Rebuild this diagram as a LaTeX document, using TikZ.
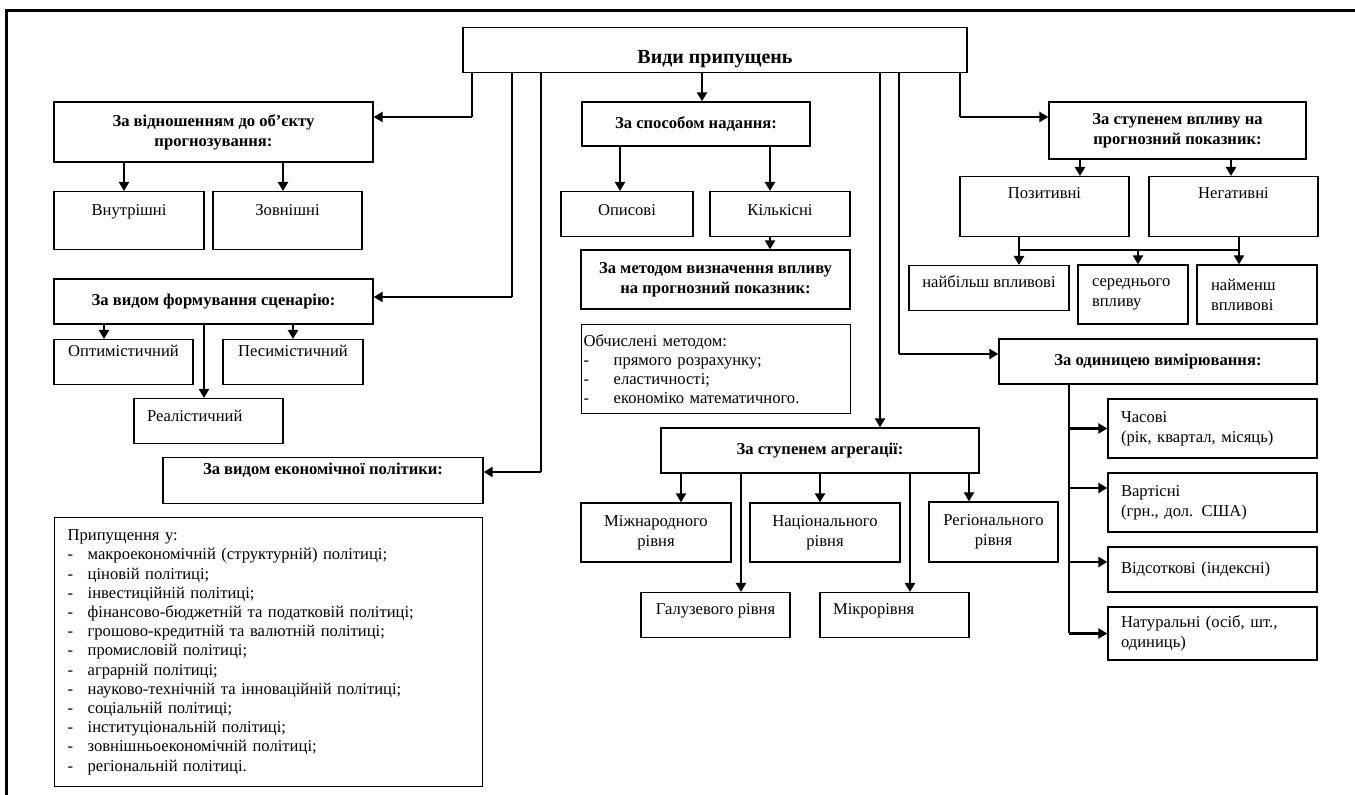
\documentclass[tikz,border=0pt]{standalone}
\usepackage{fontspec}
\setmainfont{Liberation Serif}
\usetikzlibrary{arrows.meta}
\newcommand\basesize{\fontsize{8.3}{10}\selectfont}
\newcommand\listsize{\fontsize{8.3}{9.6}\selectfont}
\newcommand\dashitem[1]{\makebox[#1][l]{-}}

\begin{document}
\begin{tikzpicture}[x=0.5pt,y=-0.5pt,
    every node/.style={font=\basesize},
    cat/.style={draw,line width=0.65pt,align=center,font=\basesize\bfseries,inner sep=2pt},
    leaf/.style={draw,line width=0.65pt,align=center,inner sep=2pt},
    topleaf/.style 2 args={leaf,anchor=north,inner ysep=0pt,text height=#1,text depth=#2},
    lefttext/.style={align=left,inner xsep=6.5pt,text width=#1},
    arrow/.style={-{Triangle[length=4.5pt,width=5pt]},line width=1.4pt},
    link/.style={line width=0.65pt}
  ]
  \useasboundingbox (0,0) rectangle (1355,795);
  \draw[line width=1.5pt] (1355,11) -- (6,11) -- (6,795);

  % root
  \node[topleaf={18pt}{4.5pt},font=\fontsize{10}{12}\selectfont\bfseries,minimum width=252pt]
    (vydy) at (715,27) {Види припущень};

  % left column
  \node[cat,minimum width=159.5pt,minimum height=30pt] (vidn) at (213.5,132)
    {За відношенням до об’єкту\\прогнозування:};
  \node[topleaf={12pt}{17pt},minimum width=75pt] (vnut) at (129,191) {Внутрішні};
  \node[topleaf={12pt}{17pt},minimum width=74.5pt] (zovn) at (287.5,191) {Зовнішні};

  \node[cat,minimum width=159.5pt,minimum height=22.5pt] (scen) at (213.5,301.5)
    {За видом формування сценарію:};
  \node[topleaf={8.5pt}{14pt},minimum width=69.5pt] (optym) at (123.5,339) {Оптимістичний};
  \node[topleaf={8.5pt}{14pt},minimum width=70pt] (pesym) at (293,339) {Песимістичний};
  \node[topleaf={11.5pt}{11pt},lefttext=61.5pt] (realist) at (208.5,398) {Реалістичний};

  \node[topleaf={8.5pt}{14.5pt},font=\basesize\bfseries,minimum width=160pt] (polit) at (323,457)
    {За видом економічної політики:};
  \node[leaf,lefttext=201pt,anchor=north west,minimum height=134.5pt,font=\listsize]
    (politlist) at (54,517)
    {Припущення у:\\
     \dashitem{10pt}макроекономічній (структурній) політиці;\\
     \dashitem{10pt}ціновій політиці;\\
     \dashitem{10pt}інвестиційній політиці;\\
     \dashitem{10pt}фінансово-бюджетній та податковій політиці;\\
     \dashitem{10pt}грошово-кредитній та валютній політиці;\\
     \dashitem{10pt}промисловій політиці;\\
     \dashitem{10pt}аграрній політиці;\\
     \dashitem{10pt}науково-технічній та інноваційній політиці;\\
     \dashitem{10pt}соціальній політиці;\\
     \dashitem{10pt}інституціональній політиці;\\
     \dashitem{10pt}зовнішньоекономічній політиці;\\
     \dashitem{10pt}регіональній політиці.};

  % middle column
  \node[cat,minimum width=114pt,minimum height=22pt] (sposib) at (696,124) {За способом надання:};
  \node[topleaf={12pt}{10.5pt},minimum width=66pt] (opys) at (627,191) {Описові};
  \node[topleaf={12pt}{10.5pt},minimum width=70pt] (kilk) at (780,191) {Кількісні};
  \node[cat,minimum width=134.5pt,minimum height=29.5pt] (metod) at (715.5,279.5)
    {За методом визначення впливу\\на прогнозний показник:};
  \node[leaf,align=left,inner xsep=1pt,text width=132.5pt,anchor=north west,
    minimum height=44.5pt,font=\listsize] (obch) at (581,324)
    {Обчислені методом:\\
     \dashitem{15pt}прямого розрахунку;\\
     \dashitem{15pt}еластичності;\\
     \dashitem{15pt}економіко математичного.};

  \node[cat,minimum width=159pt,minimum height=22.5pt] (agreg) at (820,450.5) {За ступенем агрегації:};
  \node[leaf,minimum width=75pt,minimum height=29.5pt] (mizhn) at (656,532.5) {Міжнародного\\рівня};
  \node[leaf,minimum width=75pt,minimum height=29.5pt] (nats) at (825,532.5) {Національного\\рівня};
  \node[leaf,minimum width=64.5pt,minimum height=30pt] (region) at (993.5,532) {Регіонального\\рівня};
  \node[topleaf={11pt}{11.5pt},minimum width=74.5pt] (haluz) at (715.5,592) {Галузевого рівня};
  \node[topleaf={11pt}{11.5pt},lefttext=61.5pt] (mikro) at (894.5,592) {Мікрорівня};

  % right column
  \node[cat,minimum width=128.5pt,minimum height=28.5pt] (vplyv) at (1177.5,130.5)
    {За ступенем впливу на\\прогнозний показник:};
  \node[topleaf={11pt}{19pt},minimum width=84.5pt] (pozyt) at (1044.5,176) {Позитивні};
  \node[topleaf={11pt}{19pt},minimum width=84.5pt] (nehat) at (1233.5,176) {Негативні};
  \node[topleaf={11pt}{11.5pt},minimum width=80pt] (naib) at (989,265) {найбільш впливові};
  \node[leaf,align=left,inner xsep=7pt,text width=41pt,minimum height=29.5pt] (seredn) at (1133,294.5)
    {середнього\\впливу};
  \node[leaf,align=left,inner xsep=7pt,text width=46pt,minimum height=29.5pt] (naimensh) at (1257,294.5)
    {найменш\\впливові};

  \node[cat,minimum width=159pt,minimum height=22.5pt] (odyn) at (1158,361.5) {За одиницею вимірювання:};
  \node[leaf,lefttext=91.5pt,minimum height=29.5pt] (chas) at (1212.5,428.5)
    {Часові\\(рік, квартал, місяць)};
  \node[leaf,lefttext=91.5pt,minimum height=29.5pt] (vart) at (1212.5,502.5)
    {Вартісні\\(грн., дол. США)};
  \node[leaf,lefttext=91.5pt,minimum height=22.5pt] (vids) at (1212.5,569.5) {Відсоткові (індексні)};
  \node[leaf,lefttext=91.5pt,minimum height=26.5pt] (natur) at (1212.5,633.5)
    {Натуральні (осіб, шт.,\\одиниць)};

  % bends of the links from the root
  \coordinate (c1) at (472,117);
  \coordinate (c2) at (512,297);
  \coordinate (c3) at (541,472);
  \coordinate (c5) at (960,117);
  \coordinate (c6) at (899,354);
  \coordinate (busL) at (1019,250);
  \coordinate (busR) at (1239,250);
  \coordinate (ubus) at (1069,633.5);
  \coordinate (vartin) at ([yshift=7.25pt]vart.west);
  \coordinate (vidsin) at ([yshift=3.75pt]vids.west);

  \draw[link] (c1 |- vydy.south) -- (c1);
  \draw[arrow] (c1) -- (c1 -| vidn.east);
  \draw[link] (c2 |- vydy.south) -- (c2);
  \draw[arrow] (c2) -- (c2 -| scen.east);
  \draw[link] (c3 |- vydy.south) -- (c3);
  \draw[arrow] (c3) -- (c3 -| polit.east);
  \draw[link] (c5 |- vydy.south) -- (c5);
  \draw[arrow] (c5) -- (c5 -| vplyv.west);
  \draw[link] (c6 |- vydy.south) -- (c6);
  \draw[arrow] (c6) -- (c6 -| odyn.west);
  \draw[arrow] ([xshift=3pt]sposib.north |- vydy.south) -- ([xshift=3pt]sposib.north);
  \draw[arrow] ([xshift=30pt]agreg.north |- vydy.south) -- ([xshift=30pt]agreg.north);

  % left
  \draw[arrow] ([xshift=-2.5pt]vnut.north |- vidn.south) -- ([xshift=-2.5pt]vnut.north);
  \draw[arrow] ([xshift=-2.25pt]zovn.north |- vidn.south) -- ([xshift=-2.25pt]zovn.north);
  \draw[arrow] ([xshift=-9.75pt]optym.north |- scen.south) -- ([xshift=-9.75pt]optym.north);
  \draw[arrow] (pesym.north |- scen.south) -- (pesym.north);
  \draw[arrow] ([xshift=-2.25pt]realist.north |- scen.south) -- ([xshift=-2.25pt]realist.north);

  % middle
  \draw[arrow] ([xshift=-3.5pt]opys.north |- sposib.south) -- ([xshift=-3.5pt]opys.north);
  \draw[arrow] ([xshift=-5pt]kilk.north |- sposib.south) -- ([xshift=-5pt]kilk.north);
  \draw[arrow] ([xshift=-5pt]kilk.south) -- ([xshift=-5pt]kilk.south |- metod.north);
  \draw[arrow] ([xshift=12.5pt]mizhn.north |- agreg.south) -- ([xshift=12.5pt]mizhn.north);
  \draw[arrow] ([xshift=12.75pt]haluz.north |- agreg.south) -- ([xshift=12.75pt]haluz.north);
  \draw[arrow] ([xshift=-2.5pt]nats.north |- agreg.south) -- ([xshift=-2.5pt]nats.north);
  \draw[arrow] ([xshift=7.75pt]mikro.north |- agreg.south) -- ([xshift=7.75pt]mikro.north);
  \draw[arrow] ([xshift=-12.25pt]region.north |- agreg.south) -- ([xshift=-12.25pt]region.north);

  % right
  \draw[arrow] ([xshift=17.75pt]pozyt.north |- vplyv.south) -- ([xshift=17.75pt]pozyt.north);
  \draw[arrow] ([xshift=-1.25pt]nehat.north |- vplyv.south) -- ([xshift=-1.25pt]nehat.north);
  \draw[link] (busL |- pozyt.south) -- (busL) -- (busR) -- (busR |- nehat.south);
  \draw[arrow] (busL) -- (busL |- naib.north);
  \draw[arrow] ([xshift=2.5pt]seredn.north |- busL) -- ([xshift=2.5pt]seredn.north);
  \draw[arrow] (busR) -- (busR |- naimensh.north);

  \draw[link] (ubus |- odyn.south) -- (ubus);
  \draw[arrow] (ubus |- chas.west) -- (chas.west);
  \draw[arrow] (ubus |- vartin) -- (vartin);
  \draw[arrow] (ubus |- vidsin) -- (vidsin);
  \draw[arrow] (ubus) -- (natur.west);
\end{tikzpicture}
\end{document}
